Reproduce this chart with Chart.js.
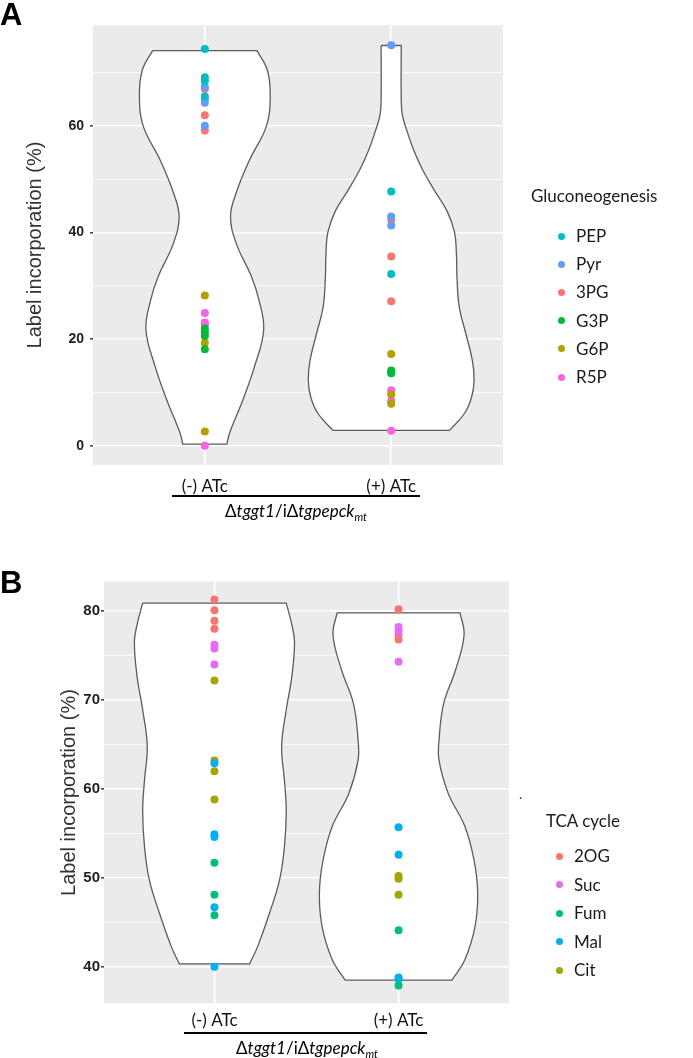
<!DOCTYPE html>
<html>
<head>
<meta charset="utf-8">
<script src="https://cdn.jsdelivr.net/npm/chart.js@4.4.1/dist/chart.umd.min.js"></script>
<style>
  html, body { margin: 0; padding: 0; background: #fff; }
  body { width: 693px; height: 1058px; position: relative; overflow: hidden; font-family: Lato, sans-serif; }
  .panel { position: absolute; left: 0; width: 693px; }
  #panelA { top: 0; height: 545px; }
  #panelB { top: 560px; height: 498px; }
  .letter { position: absolute; left: 0; font: bold 31px 'Liberation Sans', Arial, sans-serif; color: #000; line-height: 31px; }
  .abs { position: absolute; white-space: nowrap; }
  .legtitle { font-size: 17px; line-height: 20px; color: #1a1a1a; }
  .legtext { font-size: 17px; line-height: 20px; color: #1a1a1a; }
  .dot { position: absolute; width: 7px; height: 7px; border-radius: 50%; }
  .rule { position: absolute; height: 2px; background: #000; }
  .strain { font-size: 17px; line-height: 20px; color: #000; transform: translateX(-50%); }
  .strain i { font-style: italic; }
  .strain sub { font-size: 11px; vertical-align: -4px; line-height: 0; }
</style>
</head>
<body>
<div class="panel" id="panelA"><canvas id="chartA" width="693" height="545"></canvas></div>
<div class="panel" id="panelB"><canvas id="chartB" width="693" height="498"></canvas></div>

<div class="letter" style="top:-1px">A</div>
<div class="letter" style="top:567px">B</div>

<div class="rule" style="top:495px; left:172px; width:248px"></div>
<div class="abs strain" style="top:501px; left:296px">&Delta;<i>tggt1</i>/i&Delta;<i>tgpepck<sub>mt</sub></i></div>
<div class="rule" style="top:1032px; left:184px; width:243px"></div>
<div class="abs strain" style="top:1038px; left:307px">&Delta;<i>tggt1</i>/i&Delta;<i>tgpepck<sub>mt</sub></i></div>
<div class="abs" style="top:785px; left:519px; font-size:14px; color:#333">.</div>

<div id="legendA"></div>
<div id="legendB"></div>

<script>
const groups = ['(-) ATc', '(+) ATc'];

// panel A, gluconeogenesis; each series is [(-) ATc values, (+) ATc values]
const glucoNames  = ['PEP', 'Pyr', '3PG', 'G3P', 'G6P', 'R5P'];
const glucoColors = ['#00BFC4', '#619CFF', '#F8766D', '#00BA38', '#B79F00', '#F564E3'];
const pepA = [[74.4, 69.1, 68.4, 65.5], [47.7, 32.2]];
const pyrA = [[67.3, 65.0, 64.3, 60.0], [75.1, 43.0, 41.3]];
const pgA  = [[66.9, 62.0, 59.1], [42.4, 35.5, 27.1]];
const g3pA = [[22.0, 21.3, 20.6, 18.1], [14.1, 13.6]];
const g6pA = [[28.2, 19.3, 2.7], [17.2, 9.6, 7.9]];
const r5pA = [[24.9, 23.1, 22.7, 0.0], [10.4, 8.4, 2.8]];
const ticksA = [0, 20, 40, 60];
const gridA  = [0, 10, 20, 30, 40, 50, 60, 70];

// violin outlines: levels and half widths (x units)
const vioAMinusY = [74.1, 70.5, 65.5, 59.9, 53.6, 47.4, 43.0, 38.0, 31.75, 27.4, 21.75, 14.9, 8.6, 2.4, 0.3];
const vioAMinusW = [0.28, 0.335, 0.351, 0.33, 0.24, 0.168, 0.138, 0.168, 0.25, 0.29, 0.316, 0.267, 0.204, 0.133, 0.118];
const vioAPlusY  = [75.06, 65, 62, 59, 55.5, 52, 48, 44, 40, 36, 31.6, 26.1, 21.1, 16.1, 12.4, 9.2, 6.1, 2.9];
const vioAPlusW  = [0.054, 0.054, 0.06, 0.085, 0.12, 0.165, 0.23, 0.30, 0.34, 0.35, 0.353, 0.365, 0.40, 0.435, 0.445, 0.432, 0.394, 0.313];

// panel B, TCA cycle
const tcaNames  = ['2OG', 'Suc', 'Fum', 'Mal', 'Cit'];
const tcaColors = ['#F8766D', '#E76BF3', '#00BF7D', '#00B0F6', '#A3A500'];
const ogB  = [[81.3, 80.1, 78.9, 78.0], [80.2, 76.8]];
const sucB = [[76.2, 75.8, 74.0], [78.2, 77.8, 77.4, 74.3]];
const fumB = [[51.7, 48.1, 45.8], [44.1, 37.9]];
const malB = [[62.9, 54.9, 54.6, 46.7, 40.0], [55.7, 52.6, 38.8, 38.6]];
const citB = [[72.2, 63.2, 62.0, 58.8], [50.2, 49.9, 48.1]];
const ticksB = [40, 50, 60, 70, 80];
const gridB  = [40, 45, 50, 55, 60, 65, 70, 75, 80];

const vioBMinusY = [80.9, 78.5, 76.5, 72.6, 68.9, 64.8, 61.0, 57.5, 53.5, 49.8, 46.1, 42.3, 40.34];
const vioBMinusW = [0.39, 0.42, 0.435, 0.42, 0.39, 0.365, 0.38, 0.39, 0.38, 0.354, 0.30, 0.235, 0.191];
const vioBPlusY  = [79.8, 77.3, 73.4, 69.6, 65.5, 63.2, 59.5, 55.8, 52.0, 48.3, 44.5, 40.8, 38.5];
const vioBPlusW  = [0.334, 0.356, 0.31, 0.245, 0.22, 0.22, 0.27, 0.36, 0.41, 0.43, 0.415, 0.36, 0.29];

const panelBg = {
    id: 'panelBg',
    beforeDraw(chart) {
        const { ctx, chartArea: a } = chart;
        ctx.save();
        ctx.fillStyle = '#EBEBEB';
        ctx.fillRect(a.left, a.top, a.right - a.left, a.bottom - a.top);
        ctx.restore();
    }
};

function pointSets(names, colors, series) {
    return names.map((name, i) => ({
        label: name,
        data: series[i].flatMap((vals, g) => vals.map(v => ({ x: g + 1, y: v }))),
        backgroundColor: colors[i],
        borderWidth: 0,
        pointRadius: 4,
        pointHoverRadius: 4,
        order: 0
    }));
}

// closed outline; corner points are doubled so the flat ends stay straight
function violinSet(cx, ys, ws) {
    const n = ys.length;
    const left = ys.map((y, i) => ({ x: cx - ws[i], y }));
    const right = ys.map((y, i) => ({ x: cx + ws[i], y })).reverse();
    const pts = [left[0], ...left, left[n - 1], right[0], ...right, right[n - 1], left[0]];
    return {
        label: 'violin',
        data: pts,
        showLine: true,
        fill: 'shape',
        backgroundColor: '#ffffff',
        borderColor: '#5c5c5c',
        borderWidth: 1.3,
        pointRadius: 0,
        pointHoverRadius: 0,
        tension: 0.4,
        order: 1
    };
}

function buildChart(id, o) {
    return new Chart(document.getElementById(id), {
        type: 'scatter',
        data: { datasets: [...o.points, ...o.violins] },
        options: {
            responsive: false,
            animation: false,
            layout: { padding: { top: o.top, right: o.right, bottom: 0, left: 0 } },
            plugins: { legend: { display: false }, tooltip: { enabled: false } },
            scales: {
                x: {
                    type: 'linear',
                    min: 0.4,
                    max: 2.6,
                    afterBuildTicks: (s) => { s.ticks = groups.map((g, i) => ({ value: i + 1 })); },
                    ticks: {
                        callback: (v) => groups[v - 1] || '',
                        font: { family: 'Lato', size: 17 },
                        color: '#111',
                        padding: o.xPad,
                        maxRotation: 0,
                        autoSkip: false
                    },
                    grid: { color: '#ffffff', lineWidth: 1.6, tickLength: 3, tickColor: 'rgba(0,0,0,0)' },
                    border: { display: false },
                    afterFit: (s) => { s.height = o.xHeight; }
                },
                y: {
                    min: o.yMin,
                    max: o.yMax,
                    afterBuildTicks: (s) => { s.ticks = o.grid.map(v => ({ value: v })); },
                    ticks: {
                        callback: (v) => o.ticks.includes(v) ? String(v) : '',
                        font: { family: 'Liberation Sans', size: o.tickSize, weight: 'bold' },
                        color: '#222',
                        padding: o.yPad
                    },
                    grid: {
                        color: '#ffffff',
                        lineWidth: (c) => o.ticks.includes(c.tick.value) ? 1.6 : 0.8,
                        tickColor: (c) => o.ticks.includes(c.tick.value) ? '#444' : 'rgba(0,0,0,0)',
                        tickLength: 3
                    },
                    border: { display: false },
                    title: {
                        display: true,
                        text: 'Label incorporation (%)',
                        font: { family: 'Liberation Sans', size: 20 },
                        color: '#333',
                        padding: { top: o.titlePad, bottom: 0 }
                    },
                    afterFit: (s) => { s.width = o.yWidth; }
                }
            }
        },
        plugins: [panelBg]
    });
}

buildChart('chartA', {
    points: pointSets(glucoNames, glucoColors, [pepA, pyrA, pgA, g3pA, g6pA, r5pA]),
    violins: [violinSet(1, vioAMinusY, vioAMinusW), violinSet(2, vioAPlusY, vioAPlusW)],
    top: 25, right: 190, xHeight: 80, xPad: 8, yWidth: 93, yPad: 6, titlePad: 23.7,
    yMin: -3.6, yMax: 78.9, ticks: ticksA, grid: gridA, tickSize: 14
});

buildChart('chartB', {
    points: pointSets(tcaNames, tcaColors, [ogB, sucB, fumB, malB, citB]),
    violins: [violinSet(1, vioBMinusY, vioBMinusW), violinSet(2, vioBPlusY, vioBPlusW)],
    top: 21.7, right: 184, xHeight: 54.7, xPad: 4.5, yWidth: 104, yPad: 1, titlePad: 57.6,
    yMin: 35.9, yMax: 83.3, ticks: ticksB, grid: gridB, tickSize: 15
});

function buildLegend(el, title, names, colors, o) {
    let html = `<div class="abs legtitle" style="left:${o.titleX}px; top:${o.titleY - 10}px">${title}</div>`;
    names.forEach((n, i) => {
        const cy = o.firstY + i * o.step;
        html += `<div class="dot" style="left:${o.dotX - 3.5}px; top:${cy - 3.5}px; background:${colors[i]}"></div>`;
        html += `<div class="abs legtext" style="left:${o.textX}px; top:${cy - 10}px">${n}</div>`;
    });
    document.getElementById(el).innerHTML = html;
}

buildLegend('legendA', 'Gluconeogenesis', glucoNames, glucoColors,
    { titleX: 531, titleY: 196, firstY: 236, step: 28.2, dotX: 561.5, textX: 576 });
buildLegend('legendB', 'TCA cycle', tcaNames, tcaColors,
    { titleX: 546, titleY: 821, firstY: 856, step: 28.5, dotX: 559, textX: 574 });
</script>
</body>
</html>
